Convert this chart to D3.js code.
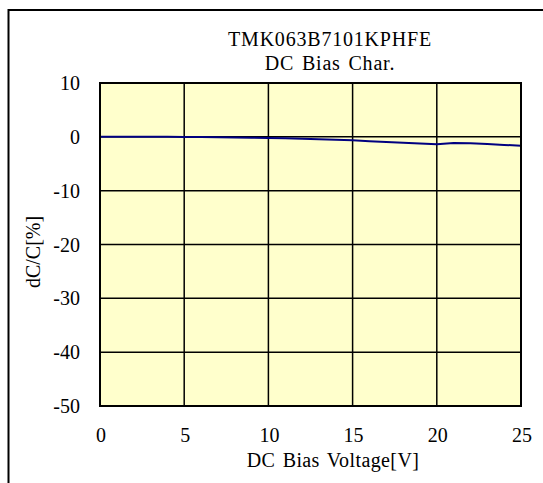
<!DOCTYPE html>
<html>
<head>
<meta charset="utf-8">
<script src="https://cdn.jsdelivr.net/npm/d3@7"></script>
<style>
  html, body { margin: 0; padding: 0; background: #fff; }
  text { font-family: "Liberation Serif", "Times New Roman", serif; fill: #000; }
</style>
</head>
<body>
<div id="chart"></div>
<script>
// datos del grafico
var voltages = [0, 1, 2, 3, 4, 5, 6, 7, 8, 9, 10, 11, 12, 13, 14, 15, 16, 17, 18, 19, 20, 21, 22, 23, 24, 25];
var dcValues = [0, 0, 0, 0, 0, -0.02, -0.05, -0.08, -0.12, -0.16, -0.2, -0.28, -0.36, -0.45, -0.55, -0.65, -0.8, -0.95, -1.1, -1.25, -1.4, -1.15, -1.2, -1.35, -1.5, -1.65];
var xTicks = [0, 5, 10, 15, 20, 25];
var yTicks = [10, 0, -10, -20, -30, -40, -50];
var titleLines = ["TMK063B7101KPHFE", "DC Bias Char."];

var width = 543, height = 483;
var plot = { left: 100, right: 521, top: 83, bottom: 406 };

var svg = d3.select("#chart")
    .append("svg")
    .attr("width", width)
    .attr("height", height);

// marco exterior
svg.append("rect")
    .attr("x", 8.5)
    .attr("y", 10)
    .attr("width", 560)
    .attr("height", 500)
    .attr("fill", "none")
    .attr("stroke", "#000")
    .attr("stroke-width", 2);

var x = d3.scaleLinear().domain([0, 25]).range([plot.left, plot.right]);
var y = d3.scaleLinear().domain([-50, 10]).range([plot.bottom, plot.top]);

// fondo amarillo del area de trazado
svg.append("rect")
    .attr("x", plot.left)
    .attr("y", plot.top)
    .attr("width", plot.right - plot.left)
    .attr("height", plot.bottom - plot.top)
    .attr("fill", "#FFFFCC");

// lineas de la cuadricula
svg.append("g")
    .selectAll("line")
    .data(xTicks.slice(1, -1))
    .enter()
    .append("line")
    .attr("x1", d => x(d)).attr("x2", d => x(d))
    .attr("y1", plot.top).attr("y2", plot.bottom)
    .attr("stroke", "#000")
    .attr("stroke-width", 1.5);

svg.append("g")
    .selectAll("line")
    .data(yTicks.slice(1, -1))
    .enter()
    .append("line")
    .attr("x1", plot.left).attr("x2", plot.right)
    .attr("y1", d => y(d)).attr("y2", d => y(d))
    .attr("stroke", "#000")
    .attr("stroke-width", 1.5);

// serie
var line = d3.line()
    .x((d, i) => x(voltages[i]))
    .y(d => y(d));

svg.append("path")
    .datum(dcValues)
    .attr("d", line)
    .attr("fill", "none")
    .attr("stroke", "#000080")
    .attr("stroke-width", 2);

// borde del area de trazado
svg.append("rect")
    .attr("x", plot.left)
    .attr("y", plot.top)
    .attr("width", plot.right - plot.left)
    .attr("height", plot.bottom - plot.top)
    .attr("fill", "none")
    .attr("stroke", "#000")
    .attr("stroke-width", 2);

// etiquetas de ejes
svg.append("g")
    .selectAll("text")
    .data(yTicks)
    .enter()
    .append("text")
    .attr("x", 80)
    .attr("y", d => y(d) + 7)
    .attr("text-anchor", "end")
    .style("font-size", "20px")
    .text(d => d);

svg.append("g")
    .selectAll("text")
    .data(xTicks)
    .enter()
    .append("text")
    .attr("x", d => x(d) + 1)
    .attr("y", 442)
    .attr("text-anchor", "middle")
    .style("font-size", "20px")
    .text(d => d);

// titulo
svg.append("g")
    .selectAll("text")
    .data(titleLines)
    .enter()
    .append("text")
    .attr("x", 330)
    .attr("y", (d, i) => 46 + i * 24)
    .attr("text-anchor", "middle")
    .style("font-size", "20px")
    .style("letter-spacing", "0.8px")
    .style("word-spacing", "2px")
    .text(d => d);

svg.append("text")
    .attr("x", 333)
    .attr("y", 467)
    .attr("text-anchor", "middle")
    .style("font-size", "20px")
    .style("letter-spacing", "0.4px")
    .style("word-spacing", "2px")
    .text("DC Bias Voltage[V]");

svg.append("text")
    .attr("transform", "translate(40,252) rotate(-90)")
    .attr("text-anchor", "middle")
    .style("font-size", "20px")
    .text("dC/C[%]");
</script>
</body>
</html>
